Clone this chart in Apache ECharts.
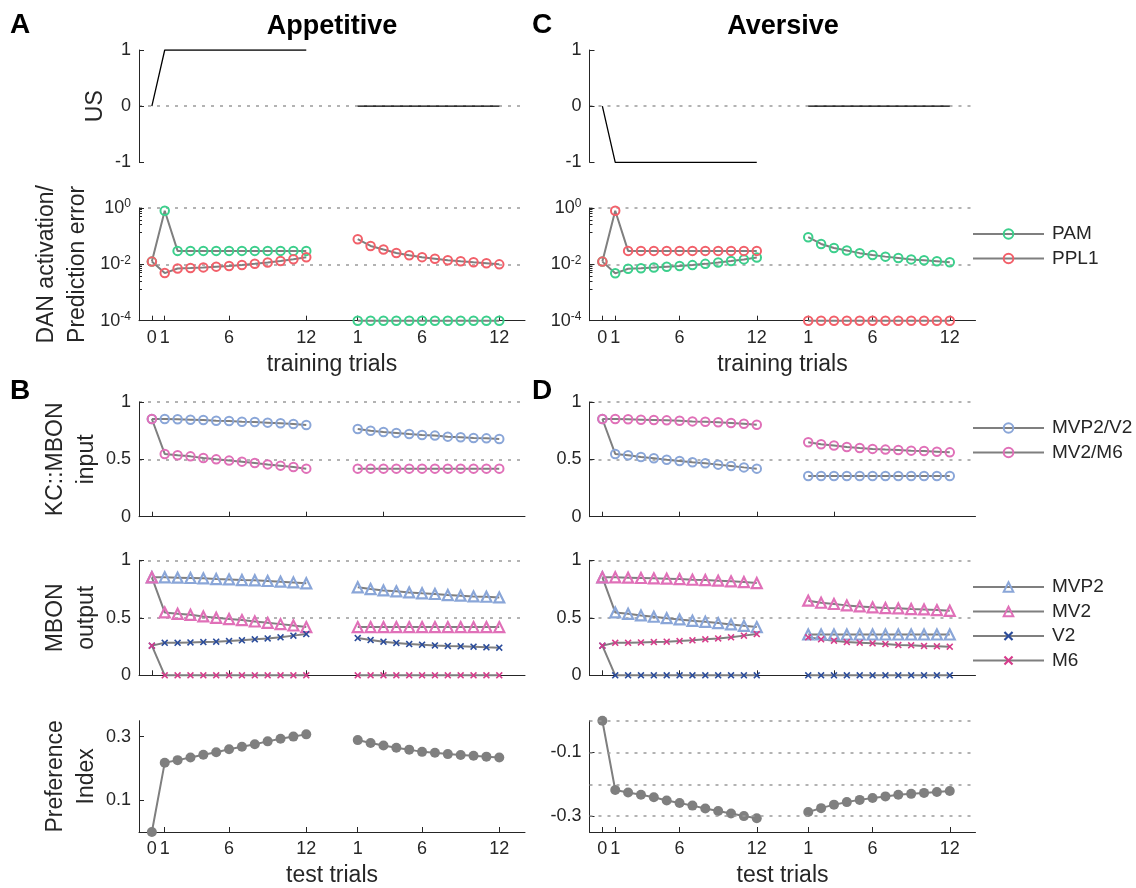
<!DOCTYPE html>
<html>
<head>
    <meta charset="utf-8">
    <title>Appetitive / Aversive model</title>
    <script src="https://cdn.jsdelivr.net/npm/echarts@6/dist/echarts.min.js"></script>
    <style>html,body{margin:0;padding:0;background:#fff;}</style>
</head>
<body>
    <div id="main" style="width:1136px;height:888px;"></div>
    <script type="text/javascript">
    var myChart = echarts.init(document.getElementById('main'));

    // x positions: training trials 0..12, test trials 1..12 drawn after a gap
    var trainX = [0, 1, 2, 3, 4, 5, 6, 7, 8, 9, 10, 11, 12];
    var testTrials = [1, 2, 3, 4, 5, 6, 7, 8, 9, 10, 11, 12];
    var testOffset = 15;
    var xTickPos = [0, 1, 6, 12, 16, 21, 27];
    var xTickText = ['0', '1', '6', '12', '1', '6', '12'];
    var xTickPlain = [0, 6, 12, 18];

    // US
    var usAppTrain = [0, 1, 1, 1, 1, 1, 1, 1, 1, 1, 1, 1, 1];
    var usAppTest = [0, 0, 0, 0, 0, 0, 0, 0, 0, 0, 0, 0];
    var usAvTrain = [0, -1, -1, -1, -1, -1, -1, -1, -1, -1, -1, -1, -1];
    var usAvTest = [0, 0, 0, 0, 0, 0, 0, 0, 0, 0, 0, 0];

    // DAN activation (log scale)
    var pamAppTrain = [0.0125, 0.8, 0.03, 0.03, 0.03, 0.03, 0.03, 0.03, 0.03, 0.03, 0.03, 0.03, 0.03];
    var pamAppTest = [1e-4, 1e-4, 1e-4, 1e-4, 1e-4, 1e-4, 1e-4, 1e-4, 1e-4, 1e-4, 1e-4, 1e-4];
    var pplAppTrain = [0.0125, 0.0049, 0.0071, 0.0074, 0.0078, 0.0083, 0.0087, 0.0095, 0.0105, 0.0117, 0.0132, 0.0151, 0.0178];
    var pplAppTest = [0.078, 0.045, 0.0335, 0.0254, 0.021, 0.018, 0.0159, 0.014, 0.0128, 0.0118, 0.011, 0.01];
    var pamAvTrain = [0.0125, 0.0048, 0.007, 0.0073, 0.0077, 0.0082, 0.0087, 0.0094, 0.0104, 0.0116, 0.0131, 0.015, 0.0175];
    var pamAvTest = [0.092, 0.053, 0.038, 0.031, 0.025, 0.0213, 0.0188, 0.0168, 0.015, 0.0139, 0.0128, 0.0118];
    var pplAvTrain = [0.0125, 0.8, 0.03, 0.03, 0.03, 0.03, 0.03, 0.03, 0.03, 0.03, 0.03, 0.03, 0.03];
    var pplAvTest = [1e-4, 1e-4, 1e-4, 1e-4, 1e-4, 1e-4, 1e-4, 1e-4, 1e-4, 1e-4, 1e-4, 1e-4];

    // KC::MBON input (also used for MBON output triangles)
    var kcHiAppTrain = [0.852, 0.852, 0.849, 0.846, 0.843, 0.837, 0.834, 0.828, 0.826, 0.82, 0.814, 0.808, 0.8];
    var kcHiAppTest = [0.765, 0.75, 0.738, 0.73, 0.721, 0.713, 0.707, 0.698, 0.692, 0.686, 0.683, 0.677];
    var kcLoAppTrain = [0.852, 0.547, 0.535, 0.526, 0.512, 0.5, 0.489, 0.48, 0.468, 0.456, 0.445, 0.433, 0.419];
    var kcLoAppTest = [0.419, 0.419, 0.419, 0.419, 0.419, 0.419, 0.419, 0.419, 0.419, 0.419, 0.419, 0.419];
    var kcHiAvTrain = [0.852, 0.852, 0.849, 0.846, 0.843, 0.84, 0.837, 0.831, 0.828, 0.823, 0.817, 0.811, 0.802];
    var kcHiAvTest = [0.649, 0.631, 0.62, 0.608, 0.599, 0.591, 0.585, 0.582, 0.576, 0.573, 0.567, 0.561];
    var kcLoAvTrain = [0.852, 0.547, 0.535, 0.521, 0.509, 0.497, 0.486, 0.474, 0.465, 0.454, 0.442, 0.43, 0.419];
    var kcLoAvTest = [0.355, 0.355, 0.355, 0.355, 0.355, 0.355, 0.355, 0.355, 0.355, 0.355, 0.355, 0.355];

    // MBON output, V2 / M6
    var v2AppTrain = [0.258, 0.283, 0.283, 0.286, 0.289, 0.292, 0.298, 0.304, 0.313, 0.321, 0.33, 0.345, 0.359];
    var v2AppTest = [0.324, 0.306, 0.292, 0.281, 0.272, 0.266, 0.26, 0.255, 0.252, 0.249, 0.243, 0.24];
    var m6AppTrain = [0.258, 0, 0, 0, 0, 0, 0, 0, 0, 0, 0, 0, 0];
    var m6AppTest = [0, 0, 0, 0, 0, 0, 0, 0, 0, 0, 0, 0];
    var v2AvTrain = [0.258, 0, 0, 0, 0, 0, 0, 0, 0, 0, 0, 0, 0];
    var v2AvTest = [0, 0, 0, 0, 0, 0, 0, 0, 0, 0, 0, 0];
    var m6AvTrain = [0.258, 0.283, 0.283, 0.286, 0.289, 0.292, 0.298, 0.304, 0.313, 0.321, 0.33, 0.345, 0.359];
    var m6AvTest = [0.33, 0.313, 0.301, 0.289, 0.284, 0.278, 0.272, 0.263, 0.261, 0.255, 0.252, 0.249];

    // Preference index
    var prefAppTrain = [0, 0.218, 0.226, 0.234, 0.243, 0.251, 0.26, 0.268, 0.276, 0.285, 0.293, 0.3, 0.307];
    var prefAppTest = [0.289, 0.28, 0.272, 0.265, 0.259, 0.252, 0.249, 0.245, 0.242, 0.24, 0.237, 0.234];
    var prefAvTrain = [0, -0.218, -0.226, -0.233, -0.241, -0.251, -0.259, -0.267, -0.276, -0.284, -0.292, -0.3, -0.307];
    var prefAvTest = [-0.287, -0.275, -0.264, -0.256, -0.249, -0.243, -0.238, -0.233, -0.23, -0.227, -0.224, -0.221];
    var prefAvLines = [0, -0.1, -0.2, -0.3];

    var AX = '#262626';
    var GRAY = '#7f7f7f';
    var FONT = '"Liberation Sans", Arial, Helvetica, sans-serif';
    var dotted = { color: '#9a9a9a', width: 1.5, type: [3, 6] };
    var xMark = 'path://M0,1.6L1.6,0L5,3.4L8.4,0L10,1.6L6.6,5L10,8.4L8.4,10L5,6.6L1.6,10L0,8.4L3.4,5Z';

    var marks = {
      'PAM':     { symbol: 'circle', size: 8.5, color: '#3ccf8c', hollow: true },
      'PPL1':    { symbol: 'circle', size: 8.5, color: '#f2606a', hollow: true },
      'MVP2/V2': { symbol: 'circle', size: 8.5, color: '#8aa6d8', hollow: true },
      'MV2/M6':  { symbol: 'circle', size: 8.5, color: '#e070b8', hollow: true },
      'MVP2':    { symbol: 'triangle', size: 10, color: '#8aa6d8', hollow: true },
      'MV2':     { symbol: 'triangle', size: 10, color: '#e070b8', hollow: true },
      'V2':      { symbol: xMark, size: 7, color: '#2b4c9b' },
      'M6':      { symbol: xMark, size: 7, color: '#d63d8c' },
      'pref':    { symbol: 'circle', size: 10, color: GRAY }
    };

    var colLeft = [139, 589.5];
    var colWidth = 386;
    var rowTop = [50, 208, 402, 560.3, 720.7];
    var rowHeight = [112.3, 112.7, 114.7, 115, 112.6];
    var rowNames = ['US', 'DAN activation/\nPrediction error', 'KC::MBON\ninput', 'MBON\noutput', 'Preference\nIndex'];
    var rowNameGap = [26, 46, 35, 35, 36];

    var grids = [], xAxes = [], yAxes = [], series = [];

    function gi(col, row) { return col * 5 + row; }

    for (var col = 0; col < 2; col++) {
      for (var row = 0; row < 5; row++) {
        var g = gi(col, row);
        grids.push({ left: colLeft[col], width: colWidth, top: rowTop[row], height: rowHeight[row] });
        var labelled = row === 1 || row === 4;
        xAxes.push({
          type: 'value', gridIndex: g, min: -1, max: 29,
          show: row !== 0,
          axisLine: { onZero: false, lineStyle: { color: AX, width: 1 } },
          splitLine: { show: false },
          axisTick: { inside: true, length: 5, customValues: labelled ? xTickPos : xTickPlain, lineStyle: { color: AX } },
          axisLabel: {
            show: labelled, customValues: xTickPos, color: AX, fontSize: 18, margin: 8,
            formatter: function (v) { return xTickText[xTickPos.indexOf(v)]; }
          },
          name: labelled ? (row === 1 ? 'training trials' : 'test trials') : '',
          nameLocation: 'middle', nameGap: 32,
          nameTextStyle: { fontSize: 23, color: AX }
        });
        var y = {
          gridIndex: g,
          axisLine: { show: true, onZero: false, lineStyle: { color: AX, width: 1 } },
          axisTick: { inside: true, length: 5, lineStyle: { color: AX } },
          axisLabel: { color: AX, fontSize: 18, margin: 8 },
          splitLine: { show: true, showMinLine: false, lineStyle: dotted },
          name: col === 0 ? rowNames[row] : '',
          nameLocation: 'middle', nameGap: rowNameGap[row],
          nameTextStyle: { fontSize: 23, color: AX, lineHeight: 31 }
        };
        if (row === 0) {
          y.type = 'value'; y.min = -1; y.max = 1; y.interval = 1;
          y.splitLine.showMaxLine = false;
        } else if (row === 1) {
          y.type = 'log'; y.logBase = 10; y.min = 1e-4; y.max = 1; y.interval = 2;
          y.minorTick = { show: true, splitNumber: 8, length: 3, lineStyle: { color: AX } };
          y.axisLabel.formatter = function (v) {
            return '{b|10}{e|' + Math.round(Math.log10(v)) + '}';
          };
          y.axisLabel.rich = {
            b: { fontSize: 18, color: AX, lineHeight: 20 },
            e: { fontSize: 12, color: AX, verticalAlign: 'top', lineHeight: 12 }
          };
        } else if (row === 2 || row === 3) {
          y.type = 'value'; y.min = 0; y.max = 1; y.interval = 0.5;
        } else if (col === 0) {
          y.type = 'value'; y.min = 0; y.max = 0.35; y.interval = 0.1;
          y.splitLine.showMaxLine = false;
          y.axisLabel.customValues = [0.1, 0.3];
          y.axisTick.customValues = [0.1, 0.3];
        } else {
          y.type = 'value'; y.min = -0.35; y.max = 0;
          y.splitLine.show = false;
          y.axisLabel.customValues = [-0.3, -0.1];
          y.axisTick.customValues = [-0.3, -0.1];
        }
        yAxes.push(y);
      }
    }

    function pts(xs, ys) {
      return xs.map(function (x, i) { return [x, ys[i]]; });
    }
    var testX = testTrials.map(function (t) { return t + testOffset; });

    function addUS(col, train, test) {
      [pts(trainX, train), pts(testX, test)].forEach(function (d) {
        series.push({
          type: 'line', xAxisIndex: gi(col, 0), yAxisIndex: gi(col, 0),
          data: d, showSymbol: false, symbol: 'none',
          lineStyle: { color: '#000', width: 1.3 }, animation: false
        });
      });
    }

    function addLine(name, key, col, row, train, test, extra) {
      var m = marks[key || name];
      [pts(trainX, train), pts(testX, test)].forEach(function (d, k) {
        var s = {
          type: 'line', name: name, xAxisIndex: gi(col, row), yAxisIndex: gi(col, row),
          data: d, symbol: m.symbol, symbolSize: m.size, showSymbol: true, clip: false,
          lineStyle: { color: GRAY, width: 2 },
          itemStyle: m.hollow
            ? { color: 'rgba(255,255,255,0)', borderColor: m.color, borderWidth: m.symbol === 'triangle' ? 2.2 : 2 }
            : { color: m.color, borderWidth: 0 },
          emphasis: { disabled: true },
          animation: false
        };
        if (extra && k === 0) { s.markLine = extra; }
        series.push(s);
      });
    }

    addUS(0, usAppTrain, usAppTest);
    addUS(1, usAvTrain, usAvTest);

    addLine('PAM', null, 0, 1, pamAppTrain, pamAppTest);
    addLine('PPL1', null, 0, 1, pplAppTrain, pplAppTest);
    addLine('PAM', null, 1, 1, pamAvTrain, pamAvTest);
    addLine('PPL1', null, 1, 1, pplAvTrain, pplAvTest);

    addLine('MVP2/V2', null, 0, 2, kcHiAppTrain, kcHiAppTest);
    addLine('MV2/M6', null, 0, 2, kcLoAppTrain, kcLoAppTest);
    addLine('MVP2/V2', null, 1, 2, kcLoAvTrain, kcLoAvTest);
    addLine('MV2/M6', null, 1, 2, kcHiAvTrain, kcHiAvTest);

    addLine('MVP2', null, 0, 3, kcHiAppTrain, kcHiAppTest);
    addLine('MV2', null, 0, 3, kcLoAppTrain, kcLoAppTest);
    addLine('V2', null, 0, 3, v2AppTrain, v2AppTest);
    addLine('M6', null, 0, 3, m6AppTrain, m6AppTest);
    addLine('MVP2', null, 1, 3, kcLoAvTrain, kcLoAvTest);
    addLine('MV2', null, 1, 3, kcHiAvTrain, kcHiAvTest);
    addLine('V2', null, 1, 3, v2AvTrain, v2AvTest);
    addLine('M6', null, 1, 3, m6AvTrain, m6AvTest);

    addLine('Preference', 'pref', 0, 4, prefAppTrain, prefAppTest);
    addLine('Preference ', 'pref', 1, 4, prefAvTrain, prefAvTest, {
      silent: true, symbol: 'none', animation: false,
      label: { show: false }, lineStyle: dotted,
      data: prefAvLines.map(function (v) { return { yAxis: v }; })
    });

    function legendAt(top, names) {
      return {
        orient: 'vertical', left: 972, top: top, padding: 0,
        itemWidth: 71, itemHeight: 12, itemGap: 4.5,
        data: names, selectedMode: false,
        textStyle: { fontSize: 19, color: AX, lineHeight: 20, padding: [0, 0, 0, 3] }
      };
    }

    var titleStyle = { fontSize: 28, fontWeight: 'bold', color: '#000' };
    var option = {
      backgroundColor: '#fff',
      textStyle: { fontFamily: FONT },
      animation: false,
      title: [
        { text: 'A', left: 10, top: 11, padding: 0, textStyle: titleStyle },
        { text: 'C', left: 532, top: 11, padding: 0, textStyle: titleStyle },
        { text: 'B', left: 10, top: 377, padding: 0, textStyle: titleStyle },
        { text: 'D', left: 532, top: 377, padding: 0, textStyle: titleStyle },
        { text: 'Appetitive', left: 332, top: 13, padding: 0, textAlign: 'center', textStyle: { fontSize: 27, fontWeight: 'bold', color: '#000' } },
        { text: 'Aversive', left: 783, top: 13, padding: 0, textAlign: 'center', textStyle: { fontSize: 27, fontWeight: 'bold', color: '#000' } }
      ],
      legend: [
        legendAt(224, ['PAM', 'PPL1']),
        legendAt(418, ['MVP2/V2', 'MV2/M6']),
        legendAt(577, ['MVP2', 'MV2', 'V2', 'M6'])
      ],
      grid: grids,
      xAxis: xAxes,
      yAxis: yAxes,
      series: series
    };

    myChart.setOption(option);
    </script>
</body>
</html>
